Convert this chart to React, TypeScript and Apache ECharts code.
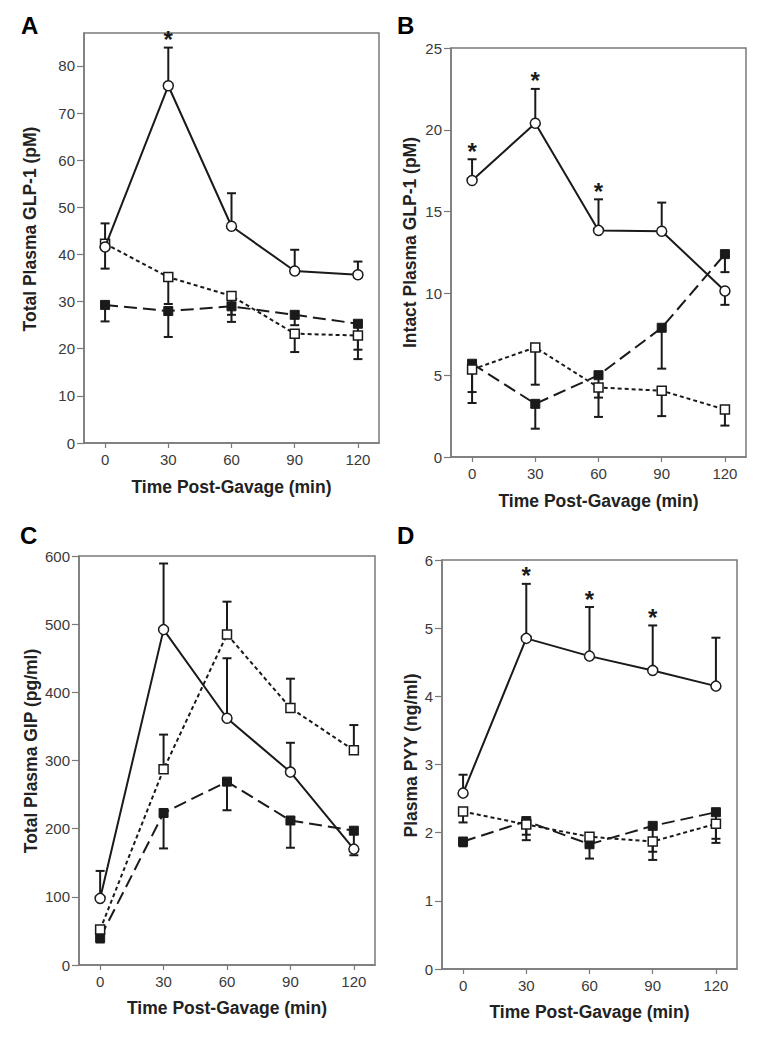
import { useEffect, useRef } from "react";
import * as echarts from "echarts";

// ---------- DATA ----------
const times = [0, 30, 60, 90, 120];
const xTicks = [0, 30, 60, 90, 120];

// Panel A – Total Plasma GLP-1 (pM)
const aYTicks = [0, 10, 20, 30, 40, 50, 60, 70, 80];
const aCircle = [41.6, 75.8, 46.0, 36.5, 35.7];
const aCircleErr = [46.6, 83.9, 53.0, 41.0, 38.5];
const aOpen = [42.3, 35.2, 31.2, 23.2, 22.8];
const aOpenErr = [37.0, 29.5, 27.2, 19.3, 17.8];
const aFilled = [29.3, 28.0, 29.0, 27.2, 25.3];
const aFilledErr = [25.8, 22.5, 25.7, 25.0, 19.8];
const aStars = [0, 1, 0, 0, 0];

// Panel B – Intact Plasma GLP-1 (pM)
const bYTicks = [0, 5, 10, 15, 20, 25];
const bCircle = [16.9, 20.4, 13.85, 13.8, 10.15];
const bCircleErr = [18.2, 22.5, 15.75, 15.55, 9.3];
const bOpen = [5.35, 6.7, 4.25, 4.05, 2.9];
const bOpenErr = [3.97, 4.42, 3.63, 2.5, 1.92];
const bFilled = [5.7, 3.25, 5.0, 7.9, 12.4];
const bFilledErr = [3.3, 1.73, 2.45, 5.4, 11.3];
const bStars = [1, 1, 1, 0, 0];

// Panel C – Total Plasma GIP (pg/ml)
const cYTicks = [0, 100, 200, 300, 400, 500, 600];
const cCircle = [97.7, 492, 362, 283, 170];
const cCircleErr = [138, 589, 450, 326, 170];
const cOpen = [52, 287, 485, 377, 315];
const cOpenErr = [52, 338, 533, 420, 352];
const cFilled = [40, 223, 269, 212, 197];
const cFilledErr = [33, 171, 227, 172, 161];
const cStars = [0, 0, 0, 0, 0];

// Panel D – Plasma PYY (ng/ml)
const dYTicks = [0, 1, 2, 3, 4, 5, 6];
const dCircle = [2.58, 4.85, 4.59, 4.38, 4.15];
const dCircleErr = [2.85, 5.65, 5.31, 5.04, 4.86];
const dOpen = [2.31, 2.12, 1.94, 1.87, 2.13];
const dOpenErr = [2.15, 1.89, 1.94, 1.6, 1.91];
const dFilled = [1.87, 2.17, 1.83, 2.1, 2.3];
const dFilledErr = [1.8, 1.97, 1.62, 1.72, 1.85];
const dStars = [0, 1, 1, 1, 0];

const FONT = "Liberation Sans, Arial, Helvetica, sans-serif";
const INK = "#1a1a1a";
const AXIS = "#7a7a7a";

const panels = [
  {
    letter: "A", letterPos: [21, 25.5],
    grid: { left: 84, top: 33, width: 295, height: 410 },
    yMax: 87, yTicks: aYTicks,
    circle: aCircle, circleErr: aCircleErr, open: aOpen, openErr: aOpenErr,
    filled: aFilled, filledErr: aFilledErr, stars: aStars,
    yTitle: "Total Plasma GLP-1 (pM)", yTitlePos: [30, 229], xTitlePos: [231.5, 486.5],
  },
  {
    letter: "B", letterPos: [397, 25],
    grid: { left: 451, top: 48, width: 295, height: 409 },
    yMax: 25, yTicks: bYTicks,
    circle: bCircle, circleErr: bCircleErr, open: bOpen, openErr: bOpenErr,
    filled: bFilled, filledErr: bFilledErr, stars: bStars,
    yTitle: "Intact Plasma GLP-1 (pM)", yTitlePos: [410, 242.5], xTitlePos: [598.5, 500.5],
  },
  {
    letter: "C", letterPos: [20, 535],
    grid: { left: 79, top: 556, width: 296, height: 409 },
    yMax: 600, yTicks: cYTicks,
    circle: cCircle, circleErr: cCircleErr, open: cOpen, openErr: cOpenErr,
    filled: cFilled, filledErr: cFilledErr, stars: cStars,
    yTitle: "Total Plasma GIP (pg/ml)", yTitlePos: [30.5, 751], xTitlePos: [227, 1008],
  },
  {
    letter: "D", letterPos: [397, 535.5],
    grid: { left: 442, top: 560, width: 295, height: 409 },
    yMax: 6, yTicks: dYTicks,
    circle: dCircle, circleErr: dCircleErr, open: dOpen, openErr: dOpenErr,
    filled: dFilled, filledErr: dFilledErr, stars: dStars,
    yTitle: "Plasma PYY (ng/ml)", yTitlePos: [410.5, 755.5], xTitlePos: [589.5, 1012],
  },
];

const errRender = (params: any, api: any) => {
  const x = api.value(0);
  const v = api.value(1);
  const e = api.value(2);
  const s = api.value(3);
  const p1 = api.coord([x, v]);
  const p2 = api.coord([x, e]);
  const children: any[] = [];
  if (Math.abs(p2[1] - p1[1]) > 0.5) {
    children.push({
      type: "line",
      shape: { x1: p1[0], y1: p1[1], x2: p2[0], y2: p2[1] },
      style: { stroke: INK, lineWidth: 2 },
    });
    children.push({
      type: "line",
      shape: { x1: p2[0] - 4.5, y1: p2[1], x2: p2[0] + 4.5, y2: p2[1] },
      style: { stroke: INK, lineWidth: 2 },
    });
  }
  if (s) {
    children.push({
      type: "text",
      x: p2[0],
      y: p2[1] - 8,
      style: {
        text: "*", fontSize: 24, fontWeight: "bold", fontFamily: FONT, fill: INK,
        align: "center", verticalAlign: "middle", textAlign: "center", textVerticalAlign: "middle",
      },
    });
  }
  return { type: "group", children };
};

export default function App() {
  const ref = useRef<HTMLDivElement>(null);
  useEffect(() => {
    if (!ref.current) return;
    const chart = echarts.init(ref.current, null, { renderer: "svg" });
    const grid: any[] = [];
    const xAxis: any[] = [];
    const yAxis: any[] = [];
    const series: any[] = [];
    const graphic: any[] = [];

    panels.forEach((p, i) => {
      grid.push({ ...p.grid, show: true, borderColor: AXIS, borderWidth: 1.5, backgroundColor: "transparent" });
      xAxis.push({
        type: "value", gridIndex: i, min: -10, max: 130,
        axisLine: { show: true, onZero: false, lineStyle: { color: AXIS, width: 1.5 } },
        axisTick: { show: true, length: 5, customValues: xTicks, lineStyle: { color: AXIS, width: 1.2 } },
        axisLabel: { customValues: xTicks, margin: 9, fontSize: 15, color: "#3a3a3a", fontFamily: FONT },
        splitLine: { show: false },
      });
      yAxis.push({
        type: "value", gridIndex: i, min: 0, max: p.yMax,
        axisLine: { show: true, onZero: false, lineStyle: { color: AXIS, width: 1.5 } },
        axisTick: { show: true, length: 7, customValues: p.yTicks, lineStyle: { color: AXIS, width: 1.2 } },
        axisLabel: { customValues: p.yTicks, margin: 9, fontSize: 15, color: "#3a3a3a", fontFamily: FONT },
        splitLine: { show: false },
      });

      const groups = [
        { vals: p.filled, e: p.filledErr, stars: null as any },
        { vals: p.open, e: p.openErr, stars: null as any },
        { vals: p.circle, e: p.circleErr, stars: p.stars },
      ];
      groups.forEach((g) => {
        series.push({
          type: "custom", xAxisIndex: i, yAxisIndex: i, z: 1, silent: true,
          renderItem: errRender,
          data: times.map((t, k) => [t, g.vals[k], g.e[k], g.stars ? g.stars[k] : 0]),
        });
      });

      series.push({
        type: "line", xAxisIndex: i, yAxisIndex: i, z: 3,
        data: times.map((t, k) => [t, p.filled[k]]),
        symbol: "rect", symbolSize: 9,
        lineStyle: { color: INK, width: 2, type: [13, 6] },
        itemStyle: { color: INK, borderColor: INK, borderWidth: 1 },
      });
      series.push({
        type: "line", xAxisIndex: i, yAxisIndex: i, z: 4,
        data: times.map((t, k) => [t, p.open[k]]),
        symbol: "rect", symbolSize: 9,
        lineStyle: { color: INK, width: 2, type: [4, 3] },
        itemStyle: { color: "#ffffff", borderColor: INK, borderWidth: 1.5 },
      });
      series.push({
        type: "line", xAxisIndex: i, yAxisIndex: i, z: 5,
        data: times.map((t, k) => [t, p.circle[k]]),
        symbol: "circle", symbolSize: 10,
        lineStyle: { color: INK, width: 2, type: "solid" },
        itemStyle: { color: "#ffffff", borderColor: INK, borderWidth: 1.5 },
      });

      graphic.push({
        type: "text", x: p.letterPos[0], y: p.letterPos[1],
        style: {
          text: p.letter, fontSize: 24, fontWeight: "bold", fontFamily: FONT, fill: "#000",
          textAlign: "left", textVerticalAlign: "middle",
        },
      });
      graphic.push({
        type: "text", x: p.yTitlePos[0], y: p.yTitlePos[1], rotation: Math.PI / 2,
        style: {
          text: p.yTitle, fontSize: 17.5, fontWeight: "bold", fontFamily: FONT, fill: "#222",
          textAlign: "center", textVerticalAlign: "middle",
        },
      });
      graphic.push({
        type: "text", x: p.xTitlePos[0], y: p.xTitlePos[1],
        style: {
          text: "Time Post-Gavage (min)", fontSize: 17.5, fontWeight: "bold", fontFamily: FONT, fill: "#222",
          textAlign: "center", textVerticalAlign: "middle",
        },
      });
    });

    chart.setOption({
      animation: false,
      backgroundColor: "#ffffff",
      grid, xAxis, yAxis, series, graphic,
    });
    return () => chart.dispose();
  }, []);

  return (
    <div
      ref={ref}
      style={{ position: "absolute", left: 0, top: 0, width: 760, height: 1037 }}
    />
  );
}
